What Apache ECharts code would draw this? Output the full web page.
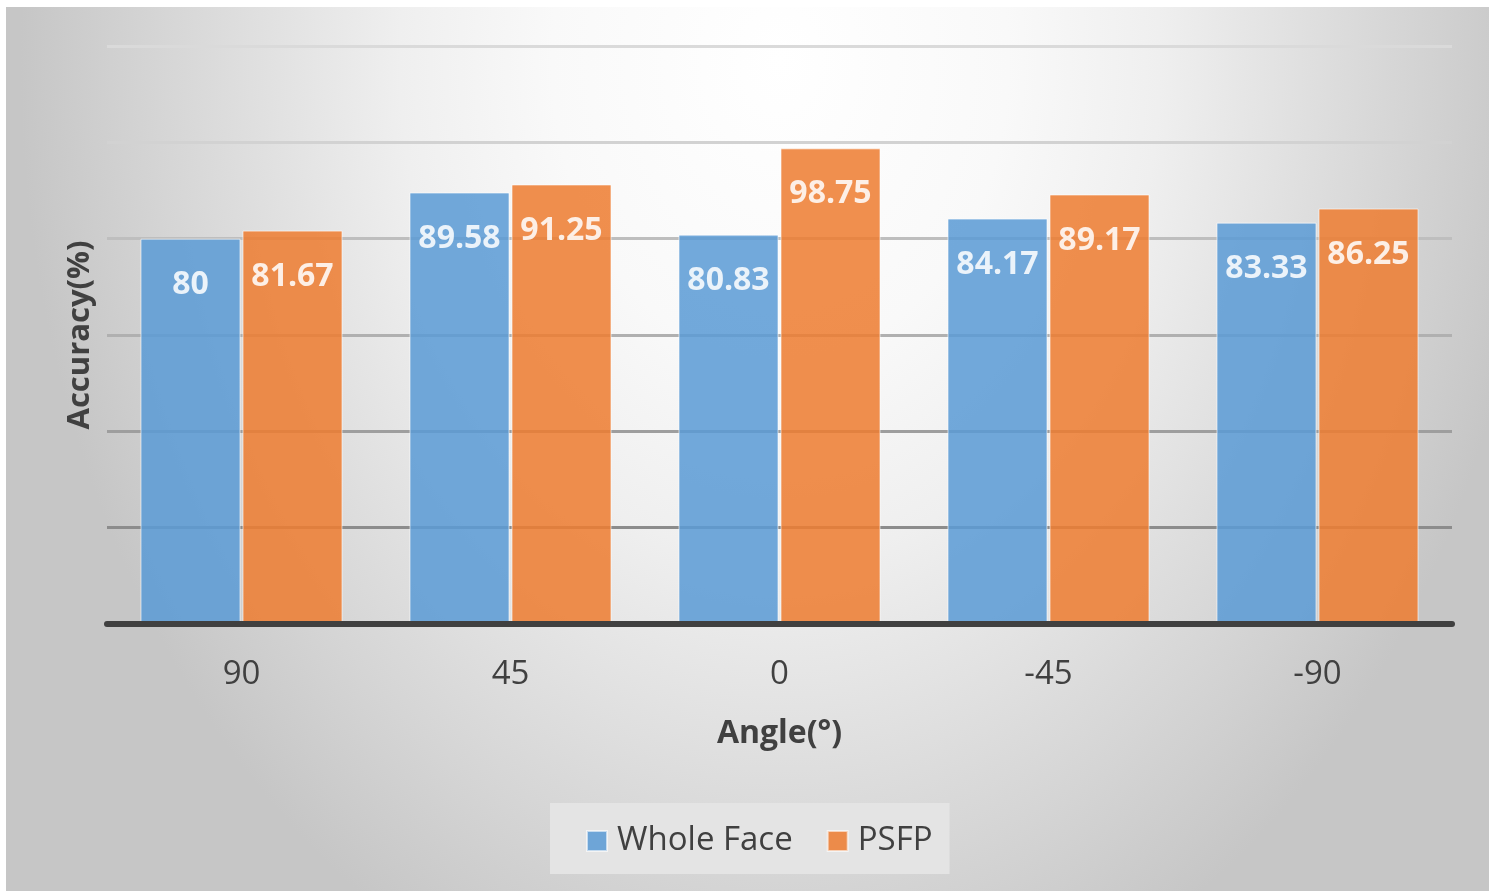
<!DOCTYPE html>
<html>
<head>
<meta charset="utf-8">
<script src="https://cdn.jsdelivr.net/npm/echarts@6/dist/echarts.min.js"></script>
<style>
  html, body { margin: 0; padding: 0; background: #ffffff; }
  #bg {
    position: absolute; left: 6px; top: 7px; width: 1483px; height: 884px;
    background: radial-gradient(ellipse 760px 1000px at 774px 53px,
      #ffffff 0%, #f9f9f9 30%, #efefef 50%, #d5d5d5 82%, #c6c6c6 100%);
  }
  #chart { position: absolute; left: 0; top: 0; width: 1489px; height: 892px; }
</style>
</head>
<body>
<div id="bg"></div>
<div id="chart"></div>
<script>
// Recognition accuracy per head angle
const angles = ['90', '45', '0', '-45', '-90'];
const wholeFace = [80, 89.58, 80.83, 84.17, 83.33];
const psfp = [81.67, 91.25, 98.75, 89.17, 86.25];
const seriesNames = ['Whole Face', 'PSFP'];

const FONT = '"Open Sans", "Noto Sans", sans-serif';
const TEXT = '#404040';

const chart = echarts.init(document.getElementById('chart'));

function barSeries(name, values, color) {
  return {
    name: name,
    type: 'bar',
    data: values,
    barWidth: 100,
    barGap: '2%',
    itemStyle: {
      color: color,
      opacity: 0.86,
      borderColor: 'rgba(255,255,255,0.7)',
      borderWidth: 1
    },
    label: {
      show: true,
      position: 'insideTop',
      distance: 29,
      color: '#ffffff',
      fontFamily: FONT,
      fontWeight: 'bold',
      fontSize: 32,
      lineHeight: 34
    }
  };
}

chart.setOption({
  animation: false,
  textStyle: { fontFamily: FONT },
  grid: { left: 107, right: 37, top: 46, bottom: 268, containLabel: false, outerBoundsMode: 'none' },
  legend: {
    data: seriesNames,
    left: 550,
    top: 803,
    padding: [21, 17, 16, 36],
    backgroundColor: '#e4e4e4',
    icon: 'rect',
    itemWidth: 20,
    itemHeight: 20,
    itemGap: 34,
    selectedMode: false,
    textStyle: { fontFamily: FONT, fontSize: 33, color: TEXT, lineHeight: 34, padding: [0, 0, 0, 5] }
  },
  xAxis: {
    type: 'category',
    data: angles,
    name: 'Angle(°)',
    nameLocation: 'middle',
    nameGap: 93,
    nameTextStyle: { fontFamily: FONT, fontSize: 32, fontWeight: 'bold', color: TEXT, lineHeight: 34 },
    axisLine: { show: true, lineStyle: { color: '#404040', width: 6 } },
    axisTick: { show: false },
    axisLabel: { fontFamily: FONT, fontSize: 33, color: TEXT, margin: 34, lineHeight: 34 },
    z: 5
  },
  yAxis: {
    type: 'value',
    min: 0,
    max: 120,
    interval: 20,
    name: 'Accuracy(%)',
    nameLocation: 'middle',
    nameGap: 10,
    nameTextStyle: { fontFamily: FONT, fontSize: 31, fontWeight: 'bold', color: TEXT, lineHeight: 34 },
    axisLine: { show: false },
    axisTick: { show: false },
    axisLabel: { show: false },
    splitLine: {
      show: true,
      lineStyle: {
        width: 3,
        color: ['#8c8c8c', '#8c8c8c', '#9e9e9e', '#b0b0b0', '#bebebe', '#d2d2d2', '#dadada']
      }
    }
  },
  series: [
    barSeries(seriesNames[0], wholeFace, '#5B9BD5'),
    barSeries(seriesNames[1], psfp, '#ED7D31')
  ]
});
</script>
</body>
</html>
